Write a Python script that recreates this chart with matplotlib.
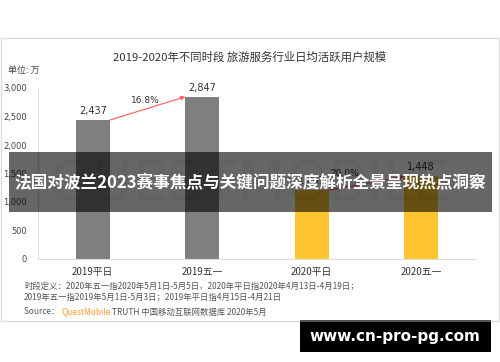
import matplotlib
matplotlib.use("Agg")
import matplotlib.pyplot as plt
from matplotlib.patches import Rectangle

plt.rcParams['font.family'] = ['Noto Sans CJK SC', 'DejaVu Sans']

categories = ['2019平日', '2019五一', '2020平日', '2020五一']
values = [2437, 2847, 1207, 1448]
bar_colors = ['#7f7f7f', '#7f7f7f', '#fec52e', '#fec52e']
growth_labels = ['16.8%', '20.0%']
yticks = [0, 500, 1000, 1500, 2000, 2500, 3000]

W, H = 500, 362
fig = plt.figure(figsize=(W / 100, H / 100), dpi=100)
fig.patch.set_facecolor('white')


def fx(px):
    return px / W


def fy(py):
    return 1 - py / H


# panel frame
fig.add_artist(Rectangle((fx(0.5), fy(321)), fx(498.5), (321 - 38) / H,
                         transform=fig.transFigure, fill=False,
                         edgecolor='#dcdcdc', linewidth=1))

# faint watermark
fig.text(fx(250), fy(185), 'QUESTMOBILE', ha='center', va='center',
         fontsize=40, color='#000000', alpha=0.04, family='DejaVu Sans')

ax = fig.add_axes([fx(38), fy(259), fx(438), (259 - 88) / H])
x = range(len(categories))
ax.bar(x, values, width=0.31, color=bar_colors, zorder=2)
ax.set_xlim(-0.5, 3.5)
ax.set_ylim(0, 3000)
ax.set_yticks(yticks)
ax.set_yticklabels([f'{v:,}' for v in yticks], fontsize=6, color='#444444',
                   family='DejaVu Sans')
ax.set_xticks(list(x))
ax.set_xticklabels(categories, fontsize=7, color='#333333')
ax.tick_params(length=0)
ax.tick_params(axis='y', pad=8)
ax.tick_params(axis='x', pad=6)
for s in ['top', 'right']:
    ax.spines[s].set_visible(False)
for s in ['left', 'bottom']:
    ax.spines[s].set_color('#dddddd')
    ax.spines[s].set_linewidth(0.8)
ax.patch.set_alpha(0)

for i, v in enumerate(values):
    ax.text(i, v + 70, f'{v:,}', ha='center', va='bottom', fontsize=7,
            color='#333333', family='DejaVu Sans')

# growth arrows
label_shift = [(-0.02, 60), (-0.2, 90)]
for k, (a, b) in enumerate([(0, 1), (2, 3)]):
    x0, x1 = a + 0.155, b - 0.155
    ax.annotate('', xy=(x1, values[b]), xytext=(x0, values[a]),
                arrowprops=dict(arrowstyle='-|>', color='#ff5a5a', lw=0.8,
                                mutation_scale=6, shrinkA=0, shrinkB=0))
    dx, dy = label_shift[k]
    ax.text((x0 + x1) / 2 + dx, (values[a] + values[b]) / 2 + dy,
            growth_labels[k], ha='center', va='bottom', fontsize=6.5,
            color='#333333', family='DejaVu Sans')

fig.text(fx(250), fy(57), '2019-2020年不同时段 旅游服务行业日均活跃用户规模',
         ha='center', va='center', fontsize=8.2, color='#333333')
fig.text(fx(8), fy(70), '单位: 万', ha='left', va='center', fontsize=6.5,
         color='#444444')

fig.text(fx(24), fy(286), '时段定义：2020年五一指2020年5月1日-5月5日，2020年平日指2020年4月13日-4月19日；',
         ha='left', va='center', fontsize=6, color='#555555')
fig.text(fx(24), fy(297), '2019年五一指2019年5月1日-5月3日；2019年平日指4月15日-4月21日',
         ha='left', va='center', fontsize=6, color='#555555')
t1 = fig.text(fx(24), fy(312), 'Source： ', ha='left', va='center',
              fontsize=6, color='#555555')
fig.canvas.draw()
bb = t1.get_window_extent()
t2 = fig.text(bb.x1 / W, fy(312), 'QuestMobile', ha='left', va='center',
              fontsize=6, color='#ff9a2e')
bb2 = t2.get_window_extent(renderer=fig.canvas.get_renderer())
fig.text(bb2.x1 / W + 0.003, fy(312), 'TRUTH 中国移动互联网数据库 2020年5月',
         ha='left', va='center', fontsize=6, color='#555555')

# overlay banner
fig.add_artist(Rectangle((fx(9), fy(212)), fx(483), 60 / H,
                         transform=fig.transFigure, facecolor='black',
                         alpha=0.6, edgecolor='none', zorder=10))
fig.text(fx(250), fy(183), '法国对波兰2023赛事焦点与关键问题深度解析全景呈现热点洞察',
         ha='center', va='center', fontsize=12, color='white',
         fontweight='bold', zorder=11)

# url box
fig.add_artist(Rectangle((fx(300), fy(352)), fx(191), 32 / H,
                         transform=fig.transFigure, facecolor='black',
                         edgecolor='none', zorder=10))
fig.add_artist(Rectangle((fx(300), fy(322)), fx(191), 2 / H,
                         transform=fig.transFigure, facecolor='#555555',
                         edgecolor='none', zorder=11))
fig.text(fx(395), fy(337), 'www.cn-pro-pg.com', ha='center', va='center',
         fontsize=11, color='white', fontweight='bold',
         family='DejaVu Sans', zorder=12)

fig.savefig('out.png', dpi=100)
